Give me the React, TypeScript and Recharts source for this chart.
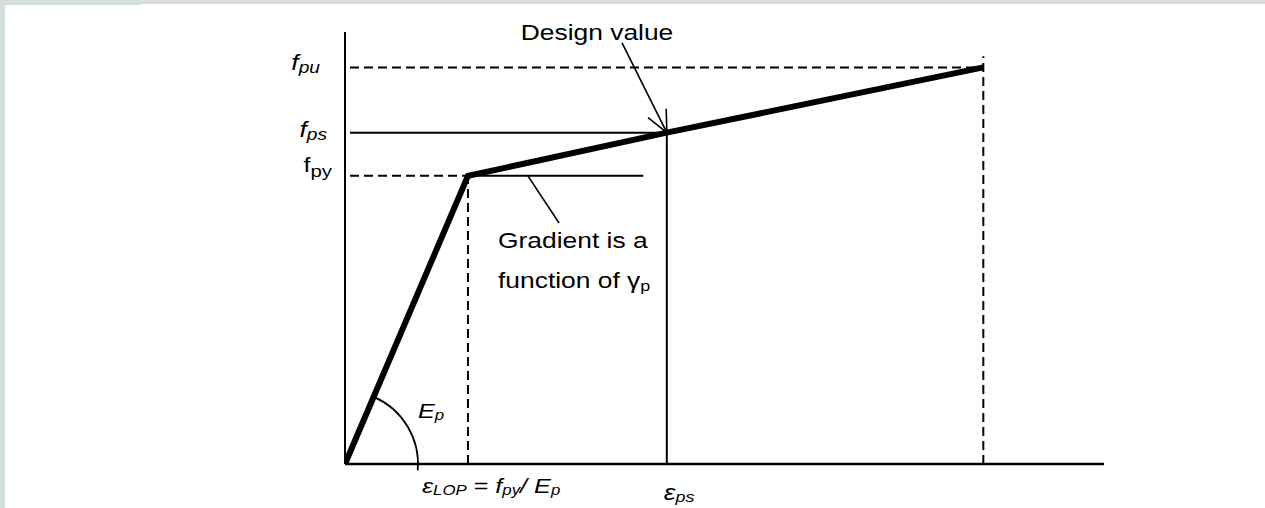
import React from 'react';
import { ComposedChart, Line, XAxis, YAxis, ReferenceLine, ReferenceDot } from 'recharts';

const FONT = '"Liberation Sans", Arial, Helvetica, sans-serif';
const STRETCH = 1.2;

// Key values (axis scale 0..100)
const epsLop = 16.2;
const epsPs = 42.4;
const epsU = 84.1;
const fpy = 66.7;
const fps = 76.7;
const fpu = 91.8;
const lineStart = 0.66;

// Stress-strain curve
const strainPoints = [0, epsLop, epsPs, epsU];
const stressPoints = [0, fpy, fps, fpu];
const curveData = strainPoints.map((s, i) => ({ strain: s, stress: stressPoints[i] }));

// Tick values and labels
const yTicks = [fpu, fps, fpy];
const yTickLabels = [
  ['f', 'pu'],
  ['f', 'ps'],
  ['f', 'py'],
];
const xTicks = [epsLop, epsPs];
const xTickLabels = [
  ['\u03b5', 'LOP', ' = ', 'f', 'py', '/ ', 'E', 'p'],
  ['\u03b5', 'ps'],
];

// Annotation texts and anchors
const designText = ['Design value'];
const designArrowTail = { x: 36.5, y: 97.5 };
const gradientLeaderStart = { x: 24.1, y: fpy };
const gradientLeaderEnd = { x: 28.2, y: 55.8 };
const gradientLine1 = ['Gradient is a'];
const gradientLine2 = ['function of ', '\u03b3', 'p'];
const modulusText = ['E', 'p'];
const gradientLineEnd = 39.3;
const ultimateDashTop = 94.4;

type St = { s: number; i?: boolean; sub?: number };

const yTickStyles: { parts: St[]; dx: number; dy: number }[] = [
  { parts: [{ s: 22, i: true }, { s: 16, i: true, sub: 3 }], dx: -25, dy: 2.5 },
  { parts: [{ s: 22, i: true }, { s: 16, i: true, sub: 3 }], dx: -18, dy: 4.5 },
  { parts: [{ s: 21 }, { s: 17, sub: 5 }], dx: -13, dy: -4 },
];
const xTickStyles: { parts: St[]; dx: number; dy: number }[] = [
  {
    parts: [
      { s: 21, i: true },
      { s: 14, i: true, sub: 2 },
      { s: 21 },
      { s: 21, i: true },
      { s: 14, i: true, sub: 2 },
      { s: 21, i: true },
      { s: 21, i: true },
      { s: 14, i: true, sub: 2 },
    ],
    dx: -46,
    dy: 29,
  },
  { parts: [{ s: 22, i: true }, { s: 15, i: true, sub: 2 }], dx: -3, dy: 36 },
];

function Rich({ x, y, texts, styles, anchor = 'start' }: { x: number; y: number; texts: string[]; styles: St[]; anchor?: string }) {
  let prev = 0;
  return (
    <text
      transform={`translate(${x},${y}) scale(${STRETCH},1)`}
      textAnchor={anchor as any}
      fontFamily={FONT}
      fill="#000"
      style={{ whiteSpace: 'pre' }}
    >
      {texts.map((t, k) => {
        const st = styles[k] || styles[styles.length - 1];
        const sh = st.sub || 0;
        const dy = sh - prev;
        prev = sh;
        return (
          <tspan key={k} dy={dy} fontSize={st.s} fontStyle={st.i ? 'italic' : 'normal'}>
            {t}
          </tspan>
        );
      })}
    </text>
  );
}

const findIdx = (arr: number[], v: number) => arr.findIndex((a) => Math.abs(a - v) < 1e-6);

const YTick = (props: any) => {
  const { x, y, payload } = props;
  const idx = findIdx(yTicks, payload.value);
  if (idx < 0) return null;
  const st = yTickStyles[idx];
  return <Rich x={x + st.dx} y={y + st.dy} texts={yTickLabels[idx]} styles={st.parts} anchor="end" />;
};

const XTick = (props: any) => {
  const { x, y, payload } = props;
  const idx = findIdx(xTicks, payload.value);
  if (idx < 0) return null;
  const st = xTickStyles[idx];
  return <Rich x={x + st.dx} y={y + st.dy} texts={xTickLabels[idx]} styles={st.parts} anchor="start" />;
};

const ArrowShape = (p: any) => {
  const { x1, y1, x2, y2 } = p;
  const ang = Math.atan2(y1 - y2, x1 - x2);
  const len = 24;
  const spread = (25 * Math.PI) / 180;
  const a1x = x2 + len * Math.cos(ang + spread);
  const a1y = y2 + len * Math.sin(ang + spread);
  const a2x = x2 + len * Math.cos(ang - spread);
  const a2y = y2 + len * Math.sin(ang - spread);
  return (
    <g>
      <line x1={x1} y1={y1} x2={x2} y2={y2} stroke="#000" strokeWidth={1.6} />
      <polyline points={`${a1x},${a1y} ${x2},${y2} ${a2x},${a2y}`} fill="none" stroke="#000" strokeWidth={1.6} />
    </g>
  );
};

const ArcShape = (p: any) => {
  const { cx, cy } = p;
  const r = 73;
  const a0 = Math.atan2(fpy * 4.32, epsLop * 7.59);
  const a1 = (-5 * Math.PI) / 180;
  const sx = cx + r * Math.cos(a0);
  const sy = cy - r * Math.sin(a0);
  const ex = cx + r * Math.cos(a1);
  const ey = cy - r * Math.sin(a1);
  return (
    <g>
      <path d={`M${sx},${sy} A${r},${r} 0 0 1 ${ex},${ey}`} fill="none" stroke="#000" strokeWidth={1.7} />
      <Rich x={cx + 73} y={cy - 46} texts={modulusText} styles={[{ s: 21, i: true }, { s: 14, i: true, sub: 2 }]} />
    </g>
  );
};

const DesignLabel = (p: any) => (
  <Rich x={p.cx - 25} y={p.cy - 3} texts={designText} styles={[{ s: 22 }]} anchor="middle" />
);

const GradientLabel = (p: any) => (
  <g>
    <Rich x={p.cx - 61} y={p.cy + 25} texts={gradientLine1} styles={[{ s: 22 }]} />
    <Rich x={p.cx - 61} y={p.cy + 65} texts={gradientLine2} styles={[{ s: 22 }, { s: 22 }, { s: 15, sub: 3 }]} />
  </g>
);

const dash = '9 5';

export default function App() {
  return (
    <div style={{ position: 'fixed', left: 0, top: 0, width: 1265, height: 508, background: '#d6dedd', overflow: 'hidden' }}>
      <div style={{ position: 'absolute', left: 5, top: 5, width: 1260, height: 503, background: '#fff' }} />
      <div style={{ position: 'absolute', left: 141, top: 4, width: 1124, height: 1, background: '#fff' }} />
      <div style={{ position: 'absolute', left: 0, top: 0 }}>
        <ComposedChart
          width={1265}
          height={508}
          data={curveData}
          margin={{ top: 32, left: 344, right: 161, bottom: 43 }}
        >
          <XAxis
            dataKey="strain"
            type="number"
            domain={[0, 100]}
            ticks={xTicks}
            interval={0}
            height={1}
            tickLine={false}
            tickSize={0}
            tickMargin={0}
            tick={<XTick />}
            axisLine={{ stroke: '#000', strokeWidth: 2.5 }}
            allowDataOverflow
          />
          <YAxis
            type="number"
            domain={[0, 100]}
            ticks={yTicks}
            interval={0}
            width={1}
            tickLine={false}
            tickSize={0}
            tickMargin={0}
            tick={<YTick />}
            axisLine={{ stroke: '#000', strokeWidth: 2 }}
            allowDataOverflow
          />
          <ReferenceLine segment={[{ x: lineStart, y: fpu }, { x: epsU, y: fpu }]} stroke="#000" strokeWidth={2} strokeDasharray={dash} ifOverflow="visible" />
          <ReferenceLine segment={[{ x: lineStart, y: fps }, { x: epsPs, y: fps }]} stroke="#000" strokeWidth={2} ifOverflow="visible" />
          <ReferenceLine segment={[{ x: lineStart, y: fpy }, { x: epsLop, y: fpy }]} stroke="#000" strokeWidth={2} strokeDasharray={dash} ifOverflow="visible" />
          <ReferenceLine segment={[{ x: epsLop, y: fpy }, { x: gradientLineEnd, y: fpy }]} stroke="#000" strokeWidth={2} ifOverflow="visible" />
          <ReferenceLine segment={[{ x: epsLop, y: 0 }, { x: epsLop, y: fpy }]} stroke="#000" strokeWidth={2} strokeDasharray={dash} ifOverflow="visible" />
          <ReferenceLine segment={[{ x: epsPs, y: 0 }, { x: epsPs, y: fps }]} stroke="#000" strokeWidth={2} ifOverflow="visible" />
          <ReferenceLine segment={[{ x: epsU, y: 0 }, { x: epsU, y: ultimateDashTop }]} stroke="#000" strokeWidth={2} strokeDasharray={dash} ifOverflow="visible" />
          <ReferenceLine segment={[gradientLeaderStart, gradientLeaderEnd]} stroke="#000" strokeWidth={1.6} ifOverflow="visible" />
          <ReferenceLine segment={[designArrowTail, { x: epsPs, y: fps }]} shape={ArrowShape} ifOverflow="visible" />
          <ReferenceDot x={0} y={0} r={0} shape={ArcShape} ifOverflow="visible" />
          <ReferenceDot x={designArrowTail.x} y={designArrowTail.y} r={0} shape={DesignLabel} ifOverflow="visible" />
          <ReferenceDot x={gradientLeaderEnd.x} y={gradientLeaderEnd.y} r={0} shape={GradientLabel} ifOverflow="visible" />
          <Line
            dataKey="stress"
            type="linear"
            stroke="#000"
            strokeWidth={6}
            dot={false}
            activeDot={false}
            isAnimationActive={false}
          />
        </ComposedChart>
      </div>
    </div>
  );
}
